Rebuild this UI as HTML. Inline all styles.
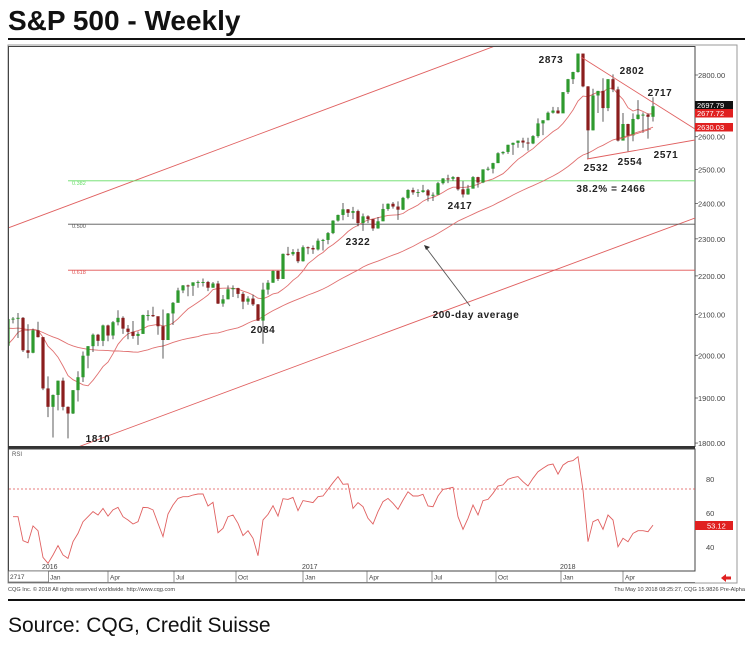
<!DOCTYPE html>
<html><head><meta charset="utf-8"><style>
html,body{margin:0;padding:0;background:#fff;width:750px;height:645px;overflow:hidden}
svg{display:block}
text{font-family:"Liberation Sans",sans-serif}
</style></head><body>
<svg id="chart" width="750" height="645" viewBox="0 0 750 645" xmlns="http://www.w3.org/2000/svg">
<text x="8" y="30" font-size="28" font-weight="bold" fill="#111">S&amp;P 500 - Weekly</text>
<rect x="8" y="38" width="737" height="2" fill="#111"/>
<rect x="8" y="45" width="729" height="538" fill="none" stroke="#999" stroke-width="1"/>
<rect x="8.5" y="46.5" width="686.5" height="400" fill="none" stroke="#444" stroke-width="1"/>
<rect x="8" y="446" width="687" height="3" fill="#333"/>
<rect x="8.5" y="449" width="686.5" height="122" fill="none" stroke="#444" stroke-width="1"/>
<defs><clipPath id="pc"><rect x="9" y="47" width="686" height="399"/></clipPath><clipPath id="rc"><rect x="9" y="450" width="686" height="121"/></clipPath></defs>
<g id="price" clip-path="url(#pc)"></g>
<g id="rsi" clip-path="url(#rc)"></g>
<g id="axes"></g>
<text x="12" y="456" font-size="6" fill="#555">RSI</text>
<rect x="8.5" y="571" width="40" height="11" fill="#fff" stroke="#666" stroke-width="0.7"/>
<text x="10" y="579" font-size="6.5" fill="#444">2717</text>
<line x1="8" y1="582.5" x2="695" y2="582.5" stroke="#666" stroke-width="0.7"/>
<text x="8" y="591" font-size="5.6" fill="#444">CQG Inc. © 2018 All rights reserved worldwide. http://www.cqg.com</text>
<text x="745" y="591" font-size="5.6" fill="#444" text-anchor="end">Thu May 10 2018 08:25:27, CQG 15.9826 Pre-Alpha</text>
<path d="M721 578 l5 -4 v2.5 h5 v3 h-5 v2.5z" fill="#e02020"/>
<rect x="8" y="599" width="737" height="2" fill="#111"/>
<text x="8" y="632" font-size="21" fill="#111">Source: CQG, Credit Suisse</text>
</svg>
<script>
const priorCloses=[2105,2071,2053,2108,2061,2067,2102,2081,2118,2108,2116,2105,2122,2129,2126,2107,2092,2095,2110,2100,2077,2077,2076,2126,2079,2104,2078,2092,2077,1971,1989,1921,1961,1958,1931,1951,2015,2033,2075,2090,2099];
const closes=[2023,2089,2090,2092,2012,2006,2061,2044,1922,1880,1907,1940,1880,1865,1918,1948,1999,2022,2050,2035,2073,2048,2081,2092,2065,2057,2047,2052,2099,2099,2096,2071,2037,2103,2130,2162,2175,2174,2183,2184,2184,2169,2180,2128,2139,2165,2168,2153,2133,2141,2126,2085,2164,2182,2213,2192,2259,2258,2264,2239,2277,2275,2271,2295,2297,2316,2351,2367,2383,2373,2378,2344,2363,2355,2329,2349,2384,2399,2391,2382,2416,2439,2432,2433,2438,2423,2425,2459,2473,2472,2477,2441,2426,2443,2477,2461,2500,2502,2519,2549,2553,2575,2581,2588,2582,2579,2602,2642,2652,2676,2683,2674,2743,2786,2810,2873,2762,2620,2732,2747,2691,2786,2752,2588,2640,2604,2656,2670,2670,2663,2697];
const highs=[2116,2097,2094,2104,2094,2076,2065,2082,2044,1950,1908,1940,1947,1881,1918,1962,2009,2022,2053,2052,2075,2075,2084,2111,2096,2074,2084,2058,2100,2111,2120,2084,2113,2104,2132,2169,2176,2177,2183,2188,2193,2187,2184,2187,2150,2175,2175,2169,2158,2147,2151,2127,2182,2189,2214,2214,2260,2278,2272,2273,2282,2279,2282,2301,2300,2319,2352,2368,2401,2384,2390,2382,2371,2366,2356,2361,2399,2400,2404,2406,2419,2441,2446,2441,2454,2442,2432,2463,2474,2484,2480,2478,2465,2454,2480,2478,2500,2508,2520,2552,2555,2575,2582,2588,2597,2597,2605,2658,2652,2680,2695,2694,2743,2787,2811,2873,2873,2763,2754,2747,2789,2786,2802,2761,2675,2641,2674,2717,2677,2674,2726];
const lows=[2019,2022,2078,2042,2008,1993,2005,2043,1918,1857,1812,1872,1872,1810,1864,1892,1937,1969,2008,2022,2022,2034,2039,2073,2052,2039,2040,2025,2052,2085,2094,2050,1992,2037,2074,2135,2155,2147,2148,2169,2172,2160,2169,2127,2120,2139,2145,2142,2114,2125,2122,2084,2028,2151,2182,2187,2192,2254,2254,2234,2238,2258,2259,2268,2268,2285,2313,2348,2352,2361,2355,2335,2322,2344,2322,2328,2349,2379,2385,2353,2381,2412,2425,2419,2431,2406,2407,2425,2455,2459,2466,2437,2417,2425,2443,2446,2459,2496,2488,2519,2545,2547,2544,2566,2566,2557,2577,2597,2605,2652,2673,2673,2682,2737,2770,2808,2759,2532,2620,2675,2647,2681,2743,2585,2594,2554,2586,2654,2612,2594,2648];
const firstOpen=2099;
const rsiValues=[57.8,57.8,43.7,42.5,52.4,49.6,33.9,30.4,35.3,40.8,35.3,33.3,43.1,48.0,54.9,57.8,60.8,58.8,62.7,58.2,61.8,63.3,57.8,55.9,53.5,54.9,63.3,63.1,61.8,53.9,46.1,59.4,64.7,68.6,69.6,69.6,70.6,71.2,71.2,64.1,66.3,48.4,51.0,57.8,58.8,53.9,46.7,49.6,45.1,34.9,55.9,59.2,64.3,58.2,68.4,68.0,69.2,61.4,67.3,66.7,66.1,69.6,70.0,73.9,77.8,81.4,76.9,77.1,62.7,66.1,63.7,56.9,53.5,60.8,66.7,68.6,65.7,62.2,67.6,72.5,70.0,70.0,71.0,64.1,63.7,70.0,73.9,74.5,75.1,57.8,50.4,56.9,64.7,58.8,67.3,68.0,71.6,75.9,76.5,79.8,80.8,81.4,78.4,75.9,80.4,84.3,86.3,88.2,88.8,82.9,88.2,90.2,90.8,93.1,73.5,43.1,54.9,56.3,50.4,58.8,55.9,40.2,45.1,43.1,48.0,49.6,49.6,49.0,52.9];
const rsiStartIndex=2;
const priceTicks=[2800,2600,2500,2400,2300,2200,2100,2000,1900,1800];
const rsiTicks=[80,60,40];
const monthLabels=["Jan","Apr","Jul","Oct","Jan","Apr","Jul","Oct","Jan","Apr"];
const monthWeeks=[9.4,21.4,34.6,47,60.4,73.2,86.2,99,112,124.4];
const yearLabels=["2016","2017","2018"];
const yearWeeks=[8.4,60.4,112];
const fibLevels=[2466,2341,2215];
const fibNames=["0.382","0.500","0.618"];

const NS="http://www.w3.org/2000/svg";
const X=i=>3+5*i;
const Y=v=>75+833*Math.log(2800/v);
const RY=v=>479+(80-v)*1.7;
function mk(parent,tag,attrs){const e=document.createElementNS(NS,tag);for(const k in attrs)e.setAttribute(k,attrs[k]);parent.appendChild(e);return e;}
const P=document.getElementById('price'),R=document.getElementById('rsi'),A=document.getElementById('axes');

let e;
e=mk(P,'line',{x1:8,y1:228,x2:495,y2:46,stroke:'#e06060','stroke-width':0.9});

e=mk(P,'line',{x1:78,y1:447,x2:695,y2:218,stroke:'#e06060','stroke-width':0.9});

const fibColors=['#66dd66','#555','#e05050'];
fibLevels.forEach((v,k)=>{
  const l=mk(P,'line',{x1:68,y1:Y(v),x2:695,y2:Y(v),stroke:fibColors[k],'stroke-width':0.9});
  
  
  const t=mk(P,'text',{x:72,y:Y(v)+4,'font-size':5.5,fill:fibColors[k]});t.textContent=fibNames[k];
  
  
});

const all=priorCloses.concat(closes),off=priorCloses.length;
function ma(n){const pts=[];for(let i=0;i<closes.length;i++){let s=0,c=0;for(let j=Math.max(0,i+off-n+1);j<=i+off;j++){s+=all[j];c++;}pts.push(X(i).toFixed(1)+','+Y(s/c).toFixed(1));}return pts.join(' ');}
e=mk(P,'polyline',{points:ma(10),fill:'none',stroke:'#e07070','stroke-width':0.9});

e=mk(P,'polyline',{points:ma(40),fill:'none',stroke:'#e07070','stroke-width':0.9});


for(let i=0;i<closes.length;i++){
  const o=i?closes[i-1]:firstOpen,c=closes[i],up=c>=o,col=up?'#2e9a2e':'#8b1e1e';
  const w=mk(P,'line',{x1:X(i),x2:X(i),y1:Y(highs[i]),y2:Y(lows[i]),stroke:'#333','stroke-width':0.8});
  
  
  const yt=Y(Math.max(o,c)),yb=Y(Math.min(o,c));
  const b=mk(P,'rect',{x:X(i)-1.6,y:yt,width:3.2,height:Math.max(1,yb-yt),fill:col});
  
  
}

[[581,57,695,129],[587,159,695,140],[620,139,651,129]].forEach((s,k)=>{
  const l=mk(P,'line',{x1:s[0],y1:s[1],x2:s[2],y2:s[3],stroke:'#e06060','stroke-width':0.9});
  
  
});
e=mk(P,'line',{x1:470,y1:306,x2:427,y2:249,stroke:'#555','stroke-width':0.9});

e=mk(P,'path',{d:'M424 245 l6 2 l-4 3z',fill:'#333'});


[['2873',551,63],['2802',632,74],['2717',660,96],['2532',596,171],['2554',630,165],['2571',666,158],['38.2% = 2466',611,192],['2417',460,209],['2322',358,245],['2084',263,333],['1810',98,442],['200-day average',476,318]].forEach(a=>{
  const t=mk(P,'text',{x:a[1],y:a[2],'font-size':10,'font-weight':'bold',fill:'#222','text-anchor':'middle','letter-spacing':0.6});
  t.textContent=a[0];
  
  
});

priceTicks.forEach(v=>{
  mk(A,'line',{x1:695,x2:698,y1:Y(v),y2:Y(v),stroke:'#444','stroke-width':0.7});
  const t=mk(A,'text',{x:698,y:Y(v)+3,'font-size':7.5,fill:'#444'});t.textContent=v.toFixed(2);
  
  
});
[['2697.79',101,'#111'],['2677.72',109,'#e02020'],['2630.03',123,'#e02020']].forEach(p=>{
  const r=mk(A,'rect',{x:695,y:p[1],width:38,height:8.5,fill:p[2]});
  
  
  const t=mk(A,'text',{x:697,y:p[1]+7,'font-size':7.5,fill:'#fff'});t.textContent=p[0];
});

e=mk(R,'line',{x1:9,x2:695,y1:489,y2:489,stroke:'#e05050','stroke-width':0.8,'stroke-dasharray':'2,2'});

e=mk(R,'polyline',{points:rsiValues.map((v,k)=>X(k+rsiStartIndex)+','+RY(v).toFixed(1)).join(' '),fill:'none',stroke:'#e06060','stroke-width':0.9});

rsiTicks.forEach(v=>{
  const t=mk(A,'text',{x:706,y:RY(v)+3,'font-size':7.5,fill:'#444'});t.textContent=v;
  
  
});
e=mk(A,'rect',{x:695,y:521,width:38,height:9,fill:'#e02020'});

e=mk(A,'text',{x:707,y:528.5,'font-size':7.5,fill:'#fff'});e.textContent='53.12';

monthLabels.forEach((m,k)=>{
  const x=X(monthWeeks[k]);
  mk(A,'line',{x1:x-2,x2:x-2,y1:571,y2:582,stroke:'#666','stroke-width':0.7});
  const t=mk(A,'text',{x:x,y:579.5,'font-size':6.5,fill:'#444'});t.textContent=m;
  
  
});
yearLabels.forEach((y,k)=>{
  const t=mk(A,'text',{x:X(yearWeeks[k])-3,y:569,'font-size':7,fill:'#444'});t.textContent=y;
  
  
});
</script>
</body></html>
